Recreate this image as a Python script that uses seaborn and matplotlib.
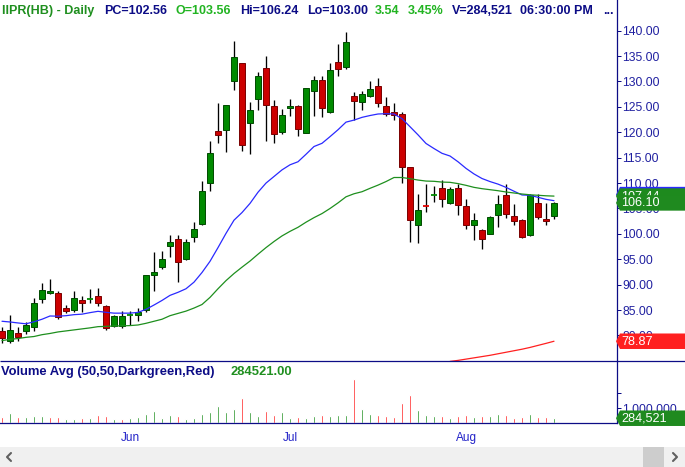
import numpy as np
import matplotlib
matplotlib.use("Agg")
import matplotlib.pyplot as plt
import seaborn as sns
from matplotlib.patches import Polygon, Rectangle
from matplotlib.ticker import FuncFormatter

# ---------------- data ----------------
opens = [80.9, 78.85, 80.4, 80.8, 81.6, 87.1, 88.3, 88.3, 85.5, 84.95,
         86.9, 87.05, 87.8, 85.8, 81.87, 81.87, 83.95, 84.1, 84.95, 91.98,
         93.4, 97.55, 98.9, 95.0, 99.3, 101.9, 109.96, 120.2, 120.4, 130.0,
         133.6, 121.9, 126.5, 132.6, 125.1, 120.0, 124.7, 125.1, 119.8, 128.07,
         130.2, 123.9, 133.8, 132.8, 127.1, 126.03, 127.1, 129.1, 125.2, 124.0,
         123.6, 113.1, 101.7, 105.5, 107.55, 109.0, 106.0, 109.0, 105.5, 101.7,
         100.7, 99.98, 103.65, 107.6, 103.5, 102.67, 99.7, 106.0, 102.85, 103.56]
highs = [81.6, 83.97, 81.6, 82.6, 87.4, 90.3, 91.06, 88.8, 86.0, 88.76,
         87.8, 89.15, 89.35, 86.0, 84.1, 84.76, 84.76, 85.4, 92.0, 96.5,
         96.6, 99.8, 99.8, 98.9, 102.3, 110.4, 118.3, 125.8, 125.35, 137.97,
         133.7, 125.97, 131.9, 135.0, 126.36, 124.6, 126.5, 125.3, 128.7, 131.1,
         131.0, 133.6, 137.4, 139.75, 127.9, 128.1, 130.1, 130.7, 126.95, 125.8,
         124.0, 113.1, 107.8, 109.8, 109.4, 110.6, 109.3, 109.8, 106.8, 104.1,
         100.9, 103.5, 107.6, 109.8, 105.9, 102.9, 107.8, 107.8, 106.0, 106.24]
lows = [78.6, 78.6, 79.0, 80.2, 80.8, 86.3, 88.1, 83.3, 84.4, 84.7,
        84.7, 86.3, 85.8, 81.1, 81.6, 81.4, 82.07, 82.8, 84.7, 88.8,
        93.1, 95.5, 90.6, 94.8, 98.5, 101.8, 108.5, 117.9, 116.2, 128.3,
        116.4, 115.8, 124.4, 118.3, 117.9, 119.7, 123.2, 119.3, 119.8, 123.2,
        123.1, 123.7, 131.0, 132.4, 122.4, 124.3, 126.95, 125.0, 123.2, 122.4,
        109.95, 98.5, 98.3, 104.4, 106.3, 105.36, 105.9, 103.8, 101.0, 98.86,
        97.1, 99.9, 101.4, 103.2, 101.7, 99.1, 99.5, 102.85, 101.7, 103.0]
closes = [79.45, 81.1, 79.8, 82.07, 86.3, 88.9, 88.7, 83.7, 84.9, 87.3,
          86.3, 87.1, 86.3, 81.4, 83.84, 83.75, 84.0, 84.6, 91.84, 92.44,
          95.0, 98.34, 94.4, 98.34, 100.9, 108.4, 115.86, 119.5, 125.3, 134.76,
          117.4, 124.3, 131.0, 125.3, 119.6, 123.5, 125.1, 120.6, 128.66, 130.2,
          124.7, 132.2, 132.4, 137.7, 126.1, 127.5, 128.5, 125.7, 123.6, 123.5,
          113.1, 102.8, 104.8, 105.4, 107.6, 106.8, 108.8, 105.6, 101.7, 102.67,
          98.93, 103.26, 105.8, 103.9, 102.5, 99.3, 107.6, 103.26, 102.56, 106.10]
volumes = [374000, 616000, 374000, 396000, 418000, 418000, 374000, 374000, 242000, 264000,
           286000, 286000, 484000, 440000, 264000, 242000, 330000, 396000, 550000, 748000,
           308000, 484000, 418000, 264000, 308000, 550000, 682000, 1078000, 682000, 880000,
           1628000, 682000, 418000, 748000, 484000, 682000, 286000, 352000, 308000, 418000,
           484000, 418000, 484000, 484000, 2926000, 880000, 550000, 484000, 418000, 352000,
           1276000, 1804000, 814000, 484000, 418000, 418000, 286000, 418000, 484000, 352000,
           418000, 418000, 550000, 484000, 286000, 352000, 550000, 352000, 352000, 284521]
sma20 = [82.8, 82.66, 82.47, 82.3, 82.7, 83.2, 83.84, 83.8, 83.9, 84.1,
         84.2, 84.5, 84.76, 84.56, 84.4, 84.4, 84.4, 84.55, 85.15, 86.0,
         86.9, 87.9, 88.5, 89.2, 90.5, 92.4, 94.6, 97.3, 100.1, 102.7,
         104.2, 106.0, 108.2, 110.0, 111.3, 112.6, 113.6, 114.2, 115.67, 117.2,
         117.83, 119.14, 120.5, 122.0, 122.4, 122.94, 123.3, 123.6, 123.66, 123.6,
         122.68, 121.1, 119.5, 117.8, 116.8, 115.86, 115.33, 114.2, 112.9, 111.8,
         110.9, 110.3, 109.8, 109.16, 108.4, 107.66, 107.6, 107.2, 106.8, 106.54]
sma50 = [79.0, 79.24, 79.4, 79.64, 79.8, 80.16, 80.4, 80.7, 80.9, 81.1,
         81.3, 81.5, 81.74, 81.8, 81.87, 81.9, 81.95, 82.07, 82.4, 82.8,
         83.2, 83.9, 84.35, 84.8, 85.4, 86.1, 87.5, 89.2, 90.8, 92.2,
         93.45, 94.65, 96.0, 97.3, 98.5, 99.6, 100.5, 101.3, 102.3, 103.2,
         104.0, 105.0, 106.1, 107.3, 107.9, 108.3, 108.97, 109.6, 110.3, 111.1,
         111.1, 110.87, 110.6, 110.4, 110.35, 110.2, 110.15, 109.9, 109.56, 109.16,
         108.9, 108.7, 108.5, 108.25, 108.05, 107.85, 107.7, 107.6, 107.5, 107.44]
sma200_start = 56
sma200 = [74.9, 75.1, 75.35, 75.6, 75.85, 76.1, 76.4, 76.7, 77.0, 77.3,
          77.65, 78.05, 78.45, 78.87]
week_ticks = [2, 7, 12, 21, 26, 31, 40, 45, 50, 55, 60, 65, 70, 75]
month_ticks = [16, 36, 58]
month_labels = ["Jun", "Jul", "Aug"]
price_ticks = [80, 85, 90, 95, 100, 105, 110, 115, 120, 125, 130, 135, 140]
vol_ticks = [1000000, 2000000]
vol_tick_labels = ["1,000,000", ""]
symbol = "IIPR(HB) - Daily"
time_text = "06:30:00 PM"

# ---------------- style ----------------
sns.set_style("white")
plt.rcParams["font.family"] = ["Liberation Sans", "DejaVu Sans"]

NAVY = "#0c0c86"
TICKC = "#2020a0"
MONC = "#2222c8"
DG = "#1f8f1f"
BG = "#22b422"
CAND_G = "#008a00"
CAND_R = "#cc0000"

W, H = 685, 467
fig = plt.figure(figsize=(W / 100, H / 100), dpi=100)


def fa(x0, y0, x1, y1):
    return [x0 / W, 1 - y1 / H, (x1 - x0) / W, (y1 - y0) / H]


ax = fig.add_axes(fa(0, 0, 617, 361))
axv = fig.add_axes(fa(0, 361, 617, 422.5))

o = np.array(opens); hi = np.array(highs); lo = np.array(lows); c = np.array(closes)
v = np.array(volumes, dtype=float)
idx = np.arange(len(c))

# candles
ax.vlines(idx, lo, hi, color="black", lw=0.95, zorder=2)
up = c >= o
body_lo = np.minimum(o, c)
body_h = np.abs(c - o)
doji = body_h < 0.2
m = ~doji
fill = np.where(up, CAND_G, CAND_R)
edge = np.where(up, "#004a00", "#7a0000")
ax.bar(idx[m], body_h[m], bottom=body_lo[m], width=0.7, color=fill[m],
       edgecolor=edge[m], linewidth=0.7, zorder=3)
ax.hlines(c[doji], idx[doji] - 0.38, idx[doji] + 0.38,
          colors=np.where(up[doji], CAND_G, "#e00000"), lw=1.3, zorder=3)

# moving averages
sns.lineplot(x=idx, y=sma20, ax=ax, color="#2a2aff", lw=0.9, zorder=4)
sns.lineplot(x=idx, y=sma50, ax=ax, color="#1e8f1e", lw=0.9, zorder=4)
sns.lineplot(x=np.arange(sma200_start, sma200_start + len(sma200)), y=sma200,
             ax=ax, color="#ff2020", lw=0.9, zorder=4)

# volume
vup = np.r_[False, c[1:] > c[:-1]]
axv.bar(idx, v, width=0.36, color=np.where(vup, "#008000", "#ff0000"), zorder=2)

# limits
for a in (ax, axv):
    a.set_xlim(-0.25, 76.875)
    a.set_xlabel("")
    a.set_ylabel("")
    a.grid(False)
    for s in ("top", "left"):
        a.spines[s].set_visible(False)
    a.spines["right"].set_color(NAVY)
    a.spines["right"].set_linewidth(0.9)
    a.yaxis.tick_right()
    a.tick_params(axis="y", direction="out", length=3, width=0.72, color=NAVY,
                  labelcolor=TICKC, labelsize=8.85, pad=1.0)
ax.set_ylim(74.98, 146.04)
axv.set_ylim(0, 4.1e6)
ax.spines["bottom"].set_visible(False)
axv.spines["bottom"].set_color(NAVY)
axv.spines["bottom"].set_linewidth(0.9)

ax.set_yticks(price_ticks)
ax.yaxis.set_major_formatter(FuncFormatter(lambda val, p: f"{val:.2f}"))
ax.tick_params(axis="x", bottom=False, labelbottom=False)

axv.set_yticks(vol_ticks)
axv.set_yticklabels(vol_tick_labels)
axv.set_xticks(month_ticks)
axv.set_xticklabels(month_labels)
axv.set_xticks(week_ticks, minor=True)
axv.tick_params(axis="x", which="major", direction="out", length=5.8, width=0.72,
                color=NAVY, labelcolor=MONC, labelsize=8.5, pad=0.8)
axv.tick_params(axis="x", which="minor", direction="out", length=3.6, width=0.72,
                color=NAVY)

# ---------------- overlay (header, tags, scrollbar) ----------------
ov = fig.add_axes([0, 0, 1, 1])
ov.set_xlim(0, W)
ov.set_ylim(H, 0)
ov.axis("off")
ov.set_zorder(10)
ov.patch.set_alpha(0)

ov.plot([0, W], [361, 361], color=NAVY, lw=0.9, solid_capstyle="butt")

chg = c[-1] - c[-2]
pct = chg / c[-2] * 100
vol_last = int(volumes[-1])
segs = [(symbol, 2, DG), (f"PC={c[-2]:.2f}", 104, NAVY), (f"O={o[-1]:.2f}", 176, BG),
        (f"Hi={hi[-1]:.2f}", 240, NAVY), (f"Lo={lo[-1]:.2f}", 307, NAVY),
        (f"{chg:.2f}", 375, BG), (f"{pct:.2f}%", 408, BG),
        (f"V={vol_last:,}", 452, NAVY), (time_text, 520, NAVY), ("...", 603, NAVY)]
for txt, x, col in segs:
    ov.text(x, 11, txt, color=col, fontsize=9.0, fontweight="bold",
            ha="left", va="center")

ov.text(1, 372, "Volume Avg (50,50,Darkgreen,Red)", color=NAVY, fontsize=9.4,
        fontweight="bold", ha="left", va="center")
ov.text(231, 372, f"{vol_last:.2f}", color=DG, fontsize=9.4, fontweight="bold",
        ha="left", va="center")


def ypx(a, val):
    return H - a.transData.transform((0, val))[1]


def tag(yc, text, col, z, hh=15.5):
    pts = [(616, yc), (620, yc - hh / 2), (W, yc - hh / 2), (W, yc + hh / 2), (620, yc + hh / 2)]
    ov.add_patch(Polygon(pts, closed=True, facecolor=col, edgecolor="none", zorder=z))
    if text:
        ov.text(621, yc + 0.5, text, color="white", fontsize=9.1, ha="left",
                va="center", zorder=z + 0.5)


tag(ypx(ax, sma50[-1]) - 1.5, "", "#2a2aff", 20)
tag(ypx(ax, sma50[-1]), f"{sma50[-1]:.2f}", "#1e8a1e", 21)
tag(ypx(ax, c[-1]), f"{c[-1]:.2f}", "#1f8a1f", 22)
tag(ypx(ax, sma200[-1]), f"{sma200[-1]:.2f}", "#ff2020", 23)
tag(ypx(axv, v[-1]), f"{vol_last:,}", "#1f8a1f", 24)

# scrollbar
ov.add_patch(Rectangle((0, 447), W, 20, facecolor="#f0f0f0", edgecolor="none", zorder=5))
ov.add_patch(Rectangle((643, 447), 21, 20, facecolor="#cdcdcd", edgecolor="none", zorder=6))
ov.plot([11, 7, 11], [453, 457, 461], color="#606060", lw=1.5, zorder=7)
ov.plot([673, 677, 673], [453, 457, 461], color="#606060", lw=1.5, zorder=7)

fig.savefig("out.png", dpi=100)
